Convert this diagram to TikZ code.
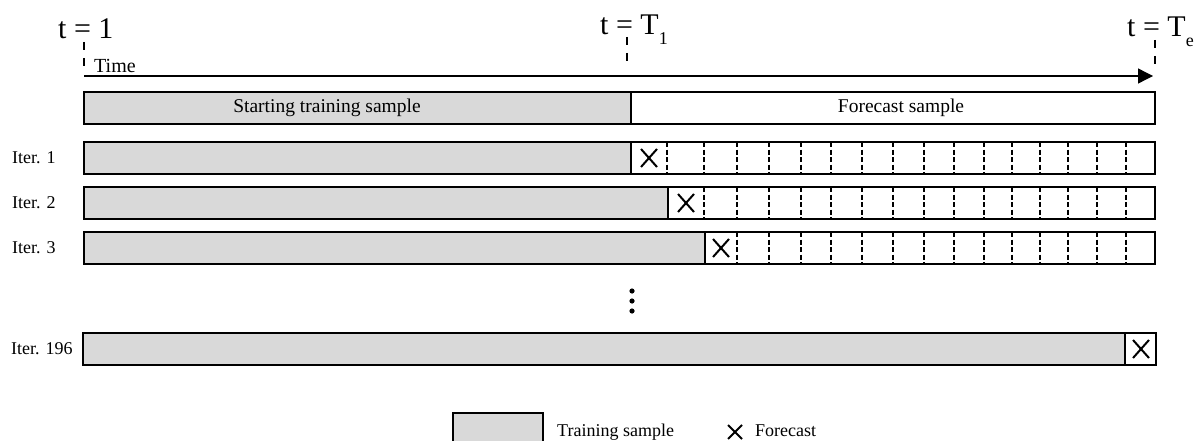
\documentclass[tikz,border=0pt]{standalone}
\usepackage{fontspec}
\setmainfont{Liberation Serif}
\usetikzlibrary{arrows.meta}
\definecolor{trainfill}{RGB}{217,217,217}
% lowered subscript for the time markers
\newcommand{\lowsub}[1]{\raisebox{-10pt}{\fontsize{18}{20}\selectfont #1}}
\begin{document}
\begin{tikzpicture}[x=1pt,y=-1pt,
  bar/.style={draw=black,line width=2.4pt},
  train/.style={fill=trainfill},
  slot/.style={line width=1.5pt,dash pattern=on 5pt off 2.5pt},
  tickline/.style={line width=1.8pt,dash pattern=on 8pt off 8pt},
  fc/.style={line width=2pt},
  lab/.style={font=\fontsize{18}{20}\selectfont,inner sep=0pt},
  head/.style={font=\fontsize{19.5}{22}\selectfont,inner sep=0pt},
  big/.style={font=\fontsize{30}{32}\selectfont,inner sep=0pt}]
\useasboundingbox (0,0) rectangle (1201,441);

% ---- time axis ----
\coordinate (t0) at (84,76);
\coordinate (tend) at (1153,76);
\draw[line width=1.3pt,-{Triangle[length=15pt,width=15pt]}] (t0) -- (tend);
\node[head,font=\fontsize{20}{22}\selectfont,anchor=base west] (timelab) at (94,73) {Time};

\node[big,anchor=base west] (tone) at (58,39) {t = 1};
\node[big,anchor=base west] (tTone) at (600,35) {t = T\lowsub{1}};
\node[big,anchor=base west] (tTe) at (1127,37) {t = T\lowsub{e}};
\draw[tickline] (84,42) -- (84,67);
\draw[tickline] (627,37) -- (627,63);
\draw[tickline] (1155,40) -- (1155,66);

% ---- header bar ----
\draw[bar,train] (84,92) rectangle (631,124);
\draw[bar] (631,92) rectangle (1155,124);
\node[head] (startlab) at (327,108) {Starting training sample};
\node[head] (forelab) at (901,108) {Forecast sample};

% ---- iteration rows ----
\def\slotsA{667,704,737,769,801,831,862,893,924,954,984,1012,1040,1068,1097,1126}
\def\slotsB{704,737,769,801,831,862,893,924,954,984,1012,1040,1068,1097,1126}
\def\slotsC{737,769,801,831,862,893,924,954,984,1012,1040,1068,1097,1126}

% Iter. 1
\fill[trainfill] (84,142) rectangle (631,174);
\foreach \x in \slotsA {\draw[slot] (\x,142) -- (\x,174);}
\draw[bar] (84,142) rectangle (1155,174);
\draw[bar] (631,142) -- (631,174);
\draw[fc,shift={(649,158)}] (-8,-9) -- (8,9) (-8,9) -- (8,-9);
\node[lab,anchor=west] (it1) at (12,158) {Iter. 1};

% Iter. 2
\fill[trainfill] (84,187) rectangle (668,219);
\foreach \x in \slotsB {\draw[slot] (\x,187) -- (\x,219);}
\draw[bar] (84,187) rectangle (1155,219);
\draw[bar] (668,187) -- (668,219);
\draw[fc,shift={(686,203)}] (-8,-9) -- (8,9) (-8,9) -- (8,-9);
\node[lab,anchor=west] (it2) at (12,203) {Iter. 2};

% Iter. 3
\fill[trainfill] (84,232) rectangle (705,264);
\foreach \x in \slotsC {\draw[slot] (\x,232) -- (\x,264);}
\draw[bar] (84,232) rectangle (1155,264);
\draw[bar] (705,232) -- (705,264);
\draw[fc,shift={(721,248)}] (-8,-9) -- (8,9) (-8,9) -- (8,-9);
\node[lab,anchor=west] (it3) at (12,248) {Iter. 3};

% vertical ellipsis
\foreach \y in {291,301,311} {\fill (632,\y) circle (2.6pt);}

% Iter. 196
\draw[bar,train] (83,333) rectangle (1125,365);
\draw[bar] (1125,333) rectangle (1156,365);
\draw[fc,shift={(1141,349)}] (-8,-9) -- (8,9) (-8,9) -- (8,-9);
\node[lab,anchor=west] (it196) at (11,349) {Iter. 196};

% ---- legend ----
\draw[bar,train,line width=1.8pt] (453,413) rectangle (543,448);
\node[lab,anchor=base west] (legtrain) at (557,436) {Training sample};
\draw[fc,shift={(735,432)}] (-7,-7) -- (7,7) (-7,7) -- (7,-7);
\node[lab,anchor=base west] (legfc) at (755,436) {Forecast};
\end{tikzpicture}
\end{document}
